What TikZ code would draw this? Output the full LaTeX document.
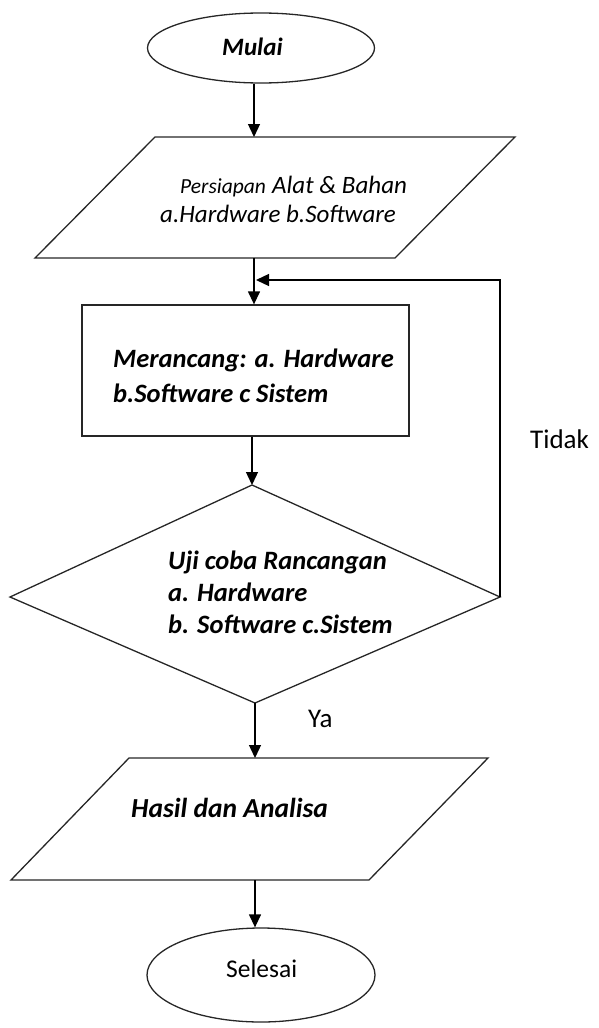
\documentclass[tikz,border=0pt]{standalone}
\usepackage{fontspec}
\setmainfont{Carlito}
\usetikzlibrary{arrows.meta,shapes.geometric}
\tikzset{
  shp/.style={draw=black!85, line width=1.3pt},
  conn/.style={draw=black, line width=1.3pt, -{Triangle[length=13pt,width=12pt]}},
  txt/.style={anchor=base west, inner sep=0pt, font=\fontsize{26.5}{30}\selectfont\bfseries\itshape},
  itx/.style={anchor=base west, inner sep=0pt, font=\fontsize{25}{30}\selectfont\itshape},
  plain/.style={anchor=base west, inner sep=0pt, font=\fontsize{27}{30}\selectfont},
}
\begin{document}
\begin{tikzpicture}[x=1pt,y=-1pt]
\useasboundingbox (0,0) rectangle (598,1028);
% start
\node[shp, ellipse, minimum width=227pt, minimum height=70pt, inner sep=0pt] (mulai) at (261,48) {};
\node[txt, font=\fontsize{25}{30}\selectfont\bfseries\itshape] (tmulai) at (222,55) {Mulai};
% parallelogram 1
\draw[shp] (155,137) -- (515,137) -- (395,258) -- (35,258) -- cycle;
\coordinate (p1top) at (254,137);
\coordinate (p1bot) at (254,258);
\node[itx, font=\fontsize{21.5}{25}\selectfont\itshape] (tpers) at (180,193) {Persiapan};
\node[itx] (talat) at (272,193) {Alat \& Bahan};
\node[itx] (thw1) at (160,222) {a.Hardware b.Software};
% rectangle
\node[shp, rectangle, minimum width=327pt, minimum height=131pt, inner sep=0pt] (rancang) at (245.5,370.5) {};
\node[txt] (tr1) at (113,367) {Merancang: a. Hardware};
\node[txt] (tr2) at (113,402) {b.Software c Sistem};
% diamond
\draw[shp] (252,485) -- (500,597) -- (255,703) -- (10,597) -- cycle;
\coordinate (dtop) at (252,485);
\coordinate (dright) at (500,597);
\coordinate (dbot) at (255,703);
\node[txt] (td1) at (168,569) {Uji coba Rancangan};
\node[txt] (td2) at (168,601) {a. Hardware};
\node[txt] (td3) at (168,633) {b. Software c.Sistem};
% parallelogram 2
\draw[shp] (129,758) -- (488,758) -- (369,880) -- (11,880) -- cycle;
\coordinate (p2top) at (255,758);
\coordinate (p2bot) at (255,880);
\node[txt, font=\fontsize{27.5}{30}\selectfont\bfseries\itshape] (th) at (131,817) {Hasil dan Analisa};
% end
\node[shp, ellipse, minimum width=228pt, minimum height=94pt, inner sep=0pt] (selesai) at (261,975) {};
\node[plain, font=\fontsize{25.5}{30}\selectfont] (tsel) at (226,977) {Selesai};
% labels
\node[plain] (tya) at (308,727) {Ya};
\node[plain] (ttidak) at (530,448) {Tidak};
% connectors
\draw[conn] (mulai.south -| p1top) -- (p1top);
\draw[conn] (p1bot) -- (rancang.north -| p1bot);
\draw[conn] (rancang.south -| dtop) -- (dtop);
\coordinate (fb1) at (500,280);
\coordinate (fb2) at (256,280);
\draw[conn] (dright) -- (fb1) -- (fb2);
\draw[conn] (dbot) -- (p2top);
\draw[conn] (p2bot) -- (p2bot |- selesai.north);
\end{tikzpicture}
\end{document}
